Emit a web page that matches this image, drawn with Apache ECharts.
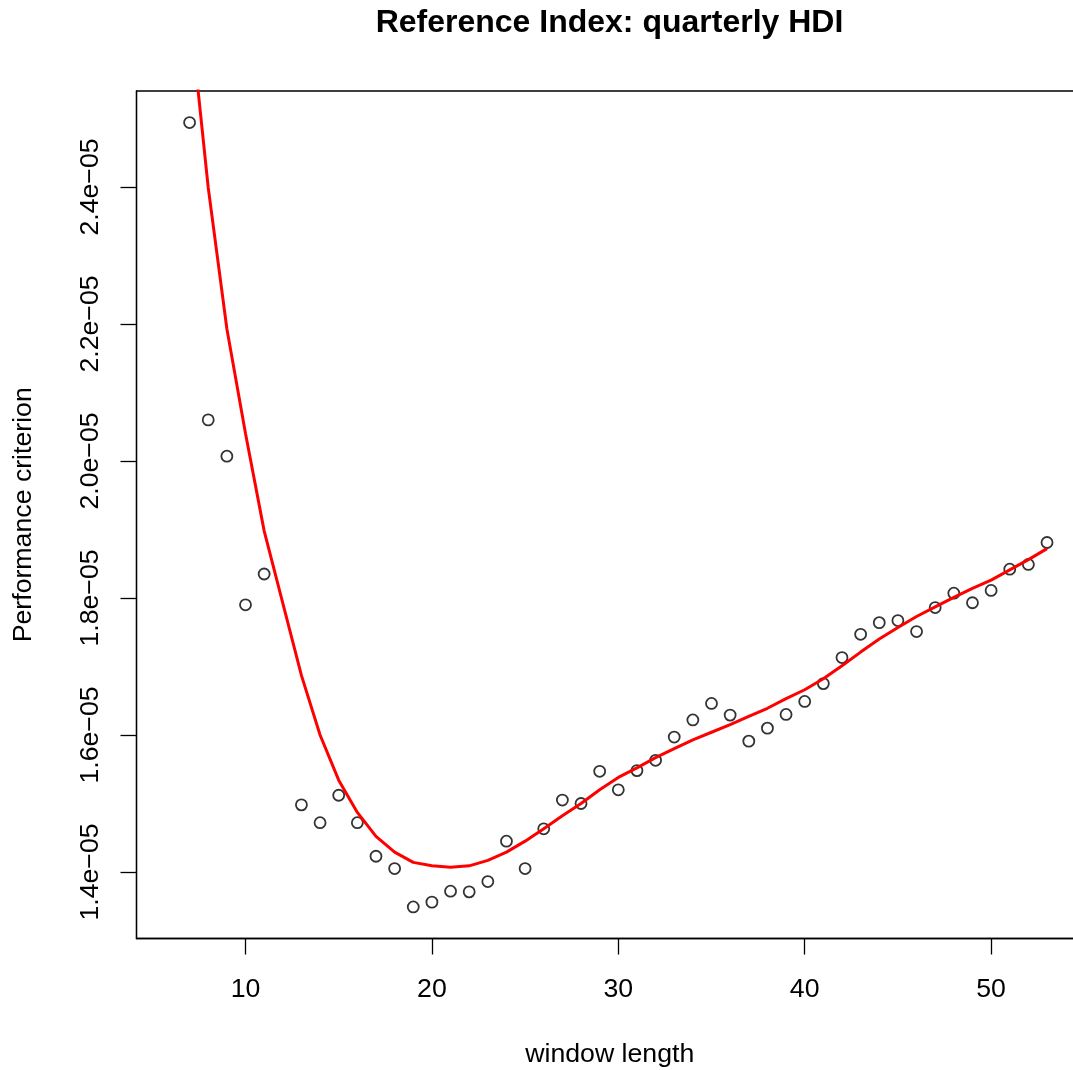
<!DOCTYPE html>
<html>
<head>
<meta charset="utf-8">
<script src="https://cdn.jsdelivr.net/npm/echarts@6/dist/echarts.min.js"></script>
<style>
  html, body { margin: 0; padding: 0; background: #fff; }
  #chart { width: 1073px; height: 1070px; }
</style>
</head>
<body>
<div id="chart"></div>
<script>
// ---- data ----
const titleText = 'Reference Index: quarterly HDI';
const xName = 'window length';
const yName = 'Performance criterion';

const windowLength = [7, 8, 9, 10, 11, 13, 14, 15, 16, 17, 18, 19, 20, 21, 22, 23, 24, 25, 26, 27, 28, 29, 30,
  31, 32, 33, 34, 35, 36, 37, 38, 39, 40, 41, 42, 43, 44, 45, 46, 47, 48, 49, 50, 51, 52, 53];

const criterion = [2.494e-5, 2.060e-5, 2.007e-5, 1.790e-5, 1.835e-5, 1.498e-5, 1.472e-5, 1.512e-5, 1.472e-5,
  1.423e-5, 1.405e-5, 1.349e-5, 1.356e-5, 1.372e-5, 1.371e-5, 1.386e-5, 1.445e-5, 1.405e-5, 1.463e-5,
  1.505e-5, 1.500e-5, 1.547e-5, 1.520e-5, 1.548e-5, 1.563e-5, 1.597e-5, 1.622e-5, 1.646e-5, 1.629e-5,
  1.591e-5, 1.610e-5, 1.630e-5, 1.649e-5, 1.675e-5, 1.713e-5, 1.747e-5, 1.764e-5, 1.767e-5, 1.751e-5,
  1.786e-5, 1.807e-5, 1.793e-5, 1.811e-5, 1.842e-5, 1.849e-5, 1.881e-5];

const smoothFit = [2.660e-5, 2.399e-5, 2.193e-5, 2.040e-5, 1.898e-5, 1.687e-5, 1.600e-5, 1.534e-5, 1.487e-5,
  1.452e-5, 1.429e-5, 1.414e-5, 1.409e-5, 1.407e-5, 1.409e-5, 1.417e-5, 1.429e-5, 1.445e-5, 1.463e-5,
  1.482e-5, 1.500e-5, 1.520e-5, 1.538e-5, 1.552e-5, 1.567e-5, 1.580e-5, 1.593e-5, 1.604e-5, 1.615e-5,
  1.627e-5, 1.639e-5, 1.653e-5, 1.666e-5, 1.682e-5, 1.701e-5, 1.721e-5, 1.740e-5, 1.757e-5, 1.773e-5,
  1.787e-5, 1.801e-5, 1.814e-5, 1.826e-5, 1.841e-5, 1.856e-5, 1.872e-5];

const xTicks = [10, 20, 30, 40, 50];
const yTicks = [1.4e-5, 1.6e-5, 1.8e-5, 2.0e-5, 2.2e-5, 2.4e-5];

// ---- build chart ----
const FONT = "'Liberation Sans', Arial, Helvetica, sans-serif";
const FS = 26.7;

const pointData = windowLength.map((x, i) => [x, criterion[i]]);
const lineData = windowLength.map((x, i) => [x, smoothFit[i]]);

const chart = echarts.init(document.getElementById('chart'), null, { renderer: 'canvas' });

chart.setOption({
  animation: false,
  backgroundColor: '#ffffff',
  title: {
    text: titleText,
    left: 609.5,
    textAlign: 'center',
    top: 7,
    padding: 0,
    textStyle: { fontFamily: FONT, fontSize: 32, fontWeight: 'bold', color: '#000' }
  },
  grid: {
    left: 136.5,
    right: -10,
    top: 91,
    bottom: 131.5,
    show: true,
    borderColor: '#000',
    borderWidth: 1.3,
    backgroundColor: 'transparent',
    containLabel: false,
    outerBoundsMode: 'none'
  },
  xAxis: {
    type: 'value',
    min: 4.152,
    max: 54.93,
    name: xName,
    nameLocation: 'middle',
    nameGap: 103,
    nameTextStyle: { fontFamily: FONT, fontSize: FS, color: '#000' },
    axisLine: { show: true, lineStyle: { color: '#000', width: 1.3 } },
    axisTick: { show: true, inside: false, length: 16, customValues: xTicks, lineStyle: { color: '#000', width: 1.3 } },
    axisLabel: { show: true, customValues: xTicks, margin: 38, fontFamily: FONT, fontSize: FS, color: '#000' },
    splitLine: { show: false }
  },
  yAxis: {
    type: 'value',
    min: 1.3029e-5,
    max: 2.5401e-5,
    name: yName,
    nameLocation: 'middle',
    nameGap: 99,
    nameRotate: 90,
    nameTextStyle: { fontFamily: FONT, fontSize: FS, color: '#000' },
    axisLine: { show: true, lineStyle: { color: '#000', width: 1.3 } },
    axisTick: { show: true, inside: false, length: 16, customValues: yTicks, lineStyle: { color: '#000', width: 1.3 } },
    axisLabel: {
      show: true,
      customValues: yTicks,
      rotate: 90,
      margin: 32,
      fontFamily: FONT,
      fontSize: FS,
      color: '#000',
      formatter: function (v) { return (v * 1e5).toFixed(1) + 'e\u221205'; }
    },
    splitLine: { show: false }
  },
  series: [
    {
      type: 'scatter',
      data: pointData,
      symbol: 'circle',
      symbolSize: 11,
      silent: true,
      itemStyle: { color: 'rgba(0,0,0,0)', borderColor: '#000', borderWidth: 1.8 },
      z: 2
    },
    {
      type: 'line',
      data: lineData,
      showSymbol: false,
      symbol: 'none',
      silent: true,
      clip: true,
      lineStyle: { color: '#ff0000', width: 3 },
      z: 3
    }
  ]
});
</script>
</body>
</html>
